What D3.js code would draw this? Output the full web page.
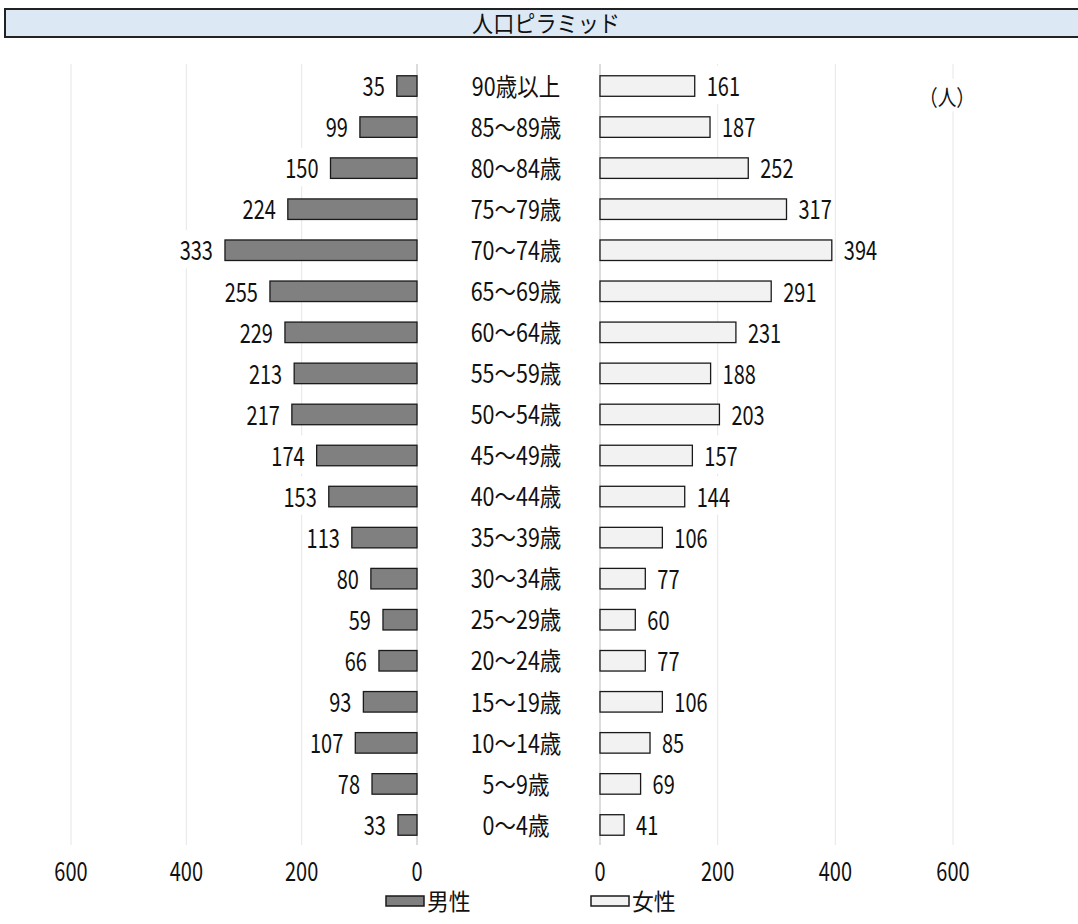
<!DOCTYPE html>
<html>
<head>
<meta charset="utf-8">
<script src="https://cdn.jsdelivr.net/npm/d3@7"></script>
<style>
  html, body { margin: 0; padding: 0; background: #fff; }
  svg { display: block; }
</style>
</head>
<body>
<div id="chart"></div>
<script>
/* 人口ピラミッド — mirrored bar chart */
const AGE_GROUPS = [
  '90歳以上', '85～89歳', '80～84歳', '75～79歳', '70～74歳', '65～69歳',
  '60～64歳', '55～59歳', '50～54歳', '45～49歳', '40～44歳', '35～39歳',
  '30～34歳', '25～29歳', '20～24歳', '15～19歳', '10～14歳', '5～9歳', '0～4歳',
];
const MALE = [35, 99, 150, 224, 333, 255, 229, 213, 217, 174, 153, 113, 80, 59, 66, 93, 107, 78, 33];
const FEMALE = [161, 187, 252, 317, 394, 291, 231, 188, 203, 157, 144, 106, 77, 60, 77, 106, 85, 69, 41];
const TICKS = [0, 200, 400, 600];

const COLORS = {
  male: '#808080',
  female: '#f2f2f2',
  stroke: '#1a1a1a',
  grid: '#e6e6e6',
  titleBg: '#dce8f4',
};

const W = 1078, H = 924;
const FONT = "'Noto Sans CJK JP', 'Noto Sans', sans-serif";
const FS = 25, SX = 0.8, SY = 1.06;

const svg = d3.select('#chart').append('svg')
  .attr('width', W).attr('height', H)
  .style('font-family', FONT);

// condensed text helper, optional white box behind
function label(parent, x, y, txt, anchor, opts = {}) {
  const g = parent.append('g')
    .attr('transform', `translate(${x},${y}) scale(${opts.sx ?? SX},${opts.sy ?? SY})`);
  const bg = opts.bg ? g.append('rect').attr('fill', '#fff') : null;
  const t = g.append('text')
    .attr('text-anchor', anchor)
    .attr('dominant-baseline', 'central')
    .attr('dy', -1)
    .attr('font-size', opts.fs ?? FS)
    .attr('fill', '#111')
    .text(txt);
  if (bg) {
    const b = t.node().getBBox();
    bg.attr('x', b.x - 3).attr('y', b.y).attr('width', b.width + 6).attr('height', b.height);
  }
  return g;
}

// Title bar
svg.append('rect')
  .attr('x', 5).attr('y', 9).attr('width', W + 10).attr('height', 28)
  .attr('fill', COLORS.titleBg)
  .attr('stroke', '#222').attr('stroke-width', 2);
label(svg, 546, 23, '人口ピラミッド', 'middle', { fs: 23, sx: 0.92, sy: 1 });

const y = d3.scaleBand().domain(AGE_GROUPS).range([65.5, 845.5]).padding(0);
const barH = y.step() * 0.5;
const barY = d => y(d) + (y.step() - barH) / 2;
const yMid = d => y(d) + y.step() / 2;

const xL = d3.scaleLinear().domain([0, 600]).range([417, 71]);
const xR = d3.scaleLinear().domain([0, 600]).range([600, 953]);

const gridTop = 64, gridBot = 845;

// Gridlines
svg.append('g').selectAll('line')
  .data(TICKS)
  .join('line')
  .attr('x1', d => xL(d)).attr('x2', d => xL(d))
  .attr('y1', gridTop).attr('y2', gridBot)
  .attr('stroke', d => d === 0 ? '#d0d0d0' : COLORS.grid)
  .attr('stroke-width', d => d === 0 ? 1.5 : 1);
svg.append('g').selectAll('line')
  .data(TICKS)
  .join('line')
  .attr('x1', d => xR(d)).attr('x2', d => xR(d))
  .attr('y1', gridTop).attr('y2', gridBot)
  .attr('stroke', d => d === 0 ? '#d0d0d0' : COLORS.grid)
  .attr('stroke-width', d => d === 0 ? 1.5 : 1);

// (人) unit label
label(svg, 947, 96, '（人）', 'middle', { bg: true, fs: 22, sx: 0.85, sy: 1 });

const rows = AGE_GROUPS.map((a, i) => ({ age: a, m: MALE[i], f: FEMALE[i] }));

// Male bars
svg.append('g').selectAll('rect')
  .data(rows)
  .join('rect')
  .attr('x', d => xL(d.m))
  .attr('y', d => barY(d.age))
  .attr('width', d => xL(0) - xL(d.m))
  .attr('height', barH)
  .attr('fill', COLORS.male)
  .attr('stroke', COLORS.stroke).attr('stroke-width', 1.3);

// Female bars
svg.append('g').selectAll('rect')
  .data(rows)
  .join('rect')
  .attr('x', xR(0))
  .attr('y', d => barY(d.age))
  .attr('width', d => xR(d.f) - xR(0))
  .attr('height', barH)
  .attr('fill', COLORS.female)
  .attr('stroke', COLORS.stroke).attr('stroke-width', 1.3);

// Value + category labels
const lab = svg.append('g');
rows.forEach(d => {
  label(lab, xL(d.m) - 12, yMid(d.age), d.m, 'end', { bg: true });
  label(lab, xR(d.f) + 12, yMid(d.age), d.f, 'start', { bg: true });
  label(lab, 516, yMid(d.age), d.age, 'middle', { sx: 0.86, sy: 1 });
});

// Axis tick labels
TICKS.forEach(t => {
  label(svg, xL(t), 871, t, 'middle');
  label(svg, xR(t), 871, t, 'middle');
});

// Legend
const LEGEND = [
  { name: '男性', fill: COLORS.male, x: 386 },
  { name: '女性', fill: COLORS.female, x: 591 },
];
LEGEND.forEach(l => {
  svg.append('rect')
    .attr('x', l.x).attr('y', 896)
    .attr('width', 38).attr('height', 10)
    .attr('fill', l.fill)
    .attr('stroke', COLORS.stroke).attr('stroke-width', 1.5);
  label(svg, l.x + 41, 901, l.name, 'start', { fs: 23, sx: 0.95, sy: 1 });
});
</script>
</body>
</html>
